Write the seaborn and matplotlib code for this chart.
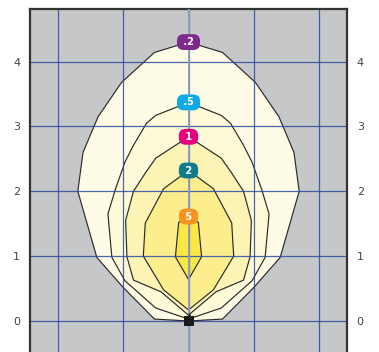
import numpy as np
import pandas as pd
import seaborn as sns
import matplotlib.pyplot as plt

# isolux curves, right half (x >= 0), from top of the curve down to the lamp
levels = [".2", ".5", "1", "2", "5"]
iso_02_x = [0, 0.52, 1.02, 1.38, 1.61, 1.69, 1.40, 1.00, 0.52, 0]
iso_02_y = [4.30, 4.14, 3.68, 3.15, 2.60, 2.00, 0.98, 0.52, 0.03, 0]
iso_05_x = [0, 0.50, 0.64, 0.84, 0.97, 1.12, 1.23, 1.17, 0.97, 0.50, 0]
iso_05_y = [3.37, 3.17, 3.05, 2.71, 2.45, 2.02, 1.65, 0.98, 0.62, 0.20, 0.03]
iso_1_x = [0, 0.50, 0.66, 0.84, 0.96, 0.94, 0.84, 0.42, 0]
iso_1_y = [2.84, 2.51, 2.28, 2.00, 1.55, 0.99, 0.63, 0.45, 0.09]
iso_2_x = [0, 0.38, 0.66, 0.69, 0.38, 0]
iso_2_y = [2.32, 2.04, 1.51, 1.00, 0.48, 0.17]
iso_5_x = [0, 0.15, 0.20, 0]
iso_5_y = [1.61, 1.52, 0.99, 0.64]
lamp_x = [0]
lamp_y = [0]
y_ticks = [0, 1, 2, 3, 4]
x_grid = [-2, -1, 0, 1, 2]

curves = [(iso_02_x, iso_02_y), (iso_05_x, iso_05_y), (iso_1_x, iso_1_y),
          (iso_2_x, iso_2_y), (iso_5_x, iso_5_y)]
fills = ["#fefce6", "#fef9d6", "#fdf3b4", "#fcee8c", "#fbe846"]
tags = ["#7c2b8c", "#0fa9e6", "#e4007f", "#117a8b", "#f6921e"]

rows = []
for lvl, (xs, ys) in zip(levels, curves):
    xs = np.array(xs); ys = np.array(ys)
    full_x = np.concatenate([xs, -xs[::-1][1:]])
    full_y = np.concatenate([ys, ys[::-1][1:]])
    for i, (a, b) in enumerate(zip(full_x, full_y)):
        rows.append({"level": lvl, "order": i, "x": a, "y": b})
df = pd.DataFrame(rows)

sns.set_style("white")
fig = plt.figure(figsize=(3.79, 3.52), dpi=100)
ax = fig.add_axes([30 / 379, 0, 317 / 379, 1 - 9 / 352])
ax.set_facecolor("#c6c7c9")

for lvl, col in zip(levels, fills):
    d = df[df.level == lvl]
    ax.fill(d.x, d.y, color=col, zorder=1, lw=0)

sns.lineplot(data=df, x="x", y="y", units="level", estimator=None, sort=False,
             color="#2a2a2a", lw=0.85, ax=ax, zorder=2)

for y in y_ticks:
    ax.axhline(y, color="#2b4ba3", lw=0.9, alpha=0.85, zorder=2.5)
for x in x_grid:
    ax.axvline(x, color="#2b4ba3", lw=0.9, alpha=0.85, zorder=2.5)
ax.axvline(0, color="#8c9cbf", lw=1.4, zorder=2.6)

for lvl, col, (xs, ys) in zip(levels, tags, curves):
    ax.text(xs[0], ys[0], f" {lvl} ", color="white", fontsize=7, fontweight="bold",
            ha="center", va="center", zorder=5,
            bbox=dict(boxstyle="round,pad=0.3,rounding_size=0.7", fc=col, ec="none"))

ax.scatter(lamp_x, lamp_y, marker="s", s=60, color="#1a1a1a", zorder=6, linewidths=0)
ax.scatter(lamp_x, [v + 0.09 for v in lamp_y], marker="^", s=16, color="#1a1a1a",
           zorder=6, linewidths=0)

ax.set_xlim(-2.42, 2.42)
ax.set_ylim(-0.478, 4.81)
ax.set_xticks([])
ax.set_yticks(y_ticks)
ax.set_xlabel("")
ax.set_ylabel("")
ax.tick_params(axis="y", labelleft=True, labelright=True, left=False, right=False,
               length=0, pad=7, labelsize=8, labelcolor="#444444")
for s in ["left", "right", "top"]:
    ax.spines[s].set_color("#333333")
    ax.spines[s].set_linewidth(1.6)
ax.spines["bottom"].set_visible(False)

fig.savefig("out.png", dpi=100)
